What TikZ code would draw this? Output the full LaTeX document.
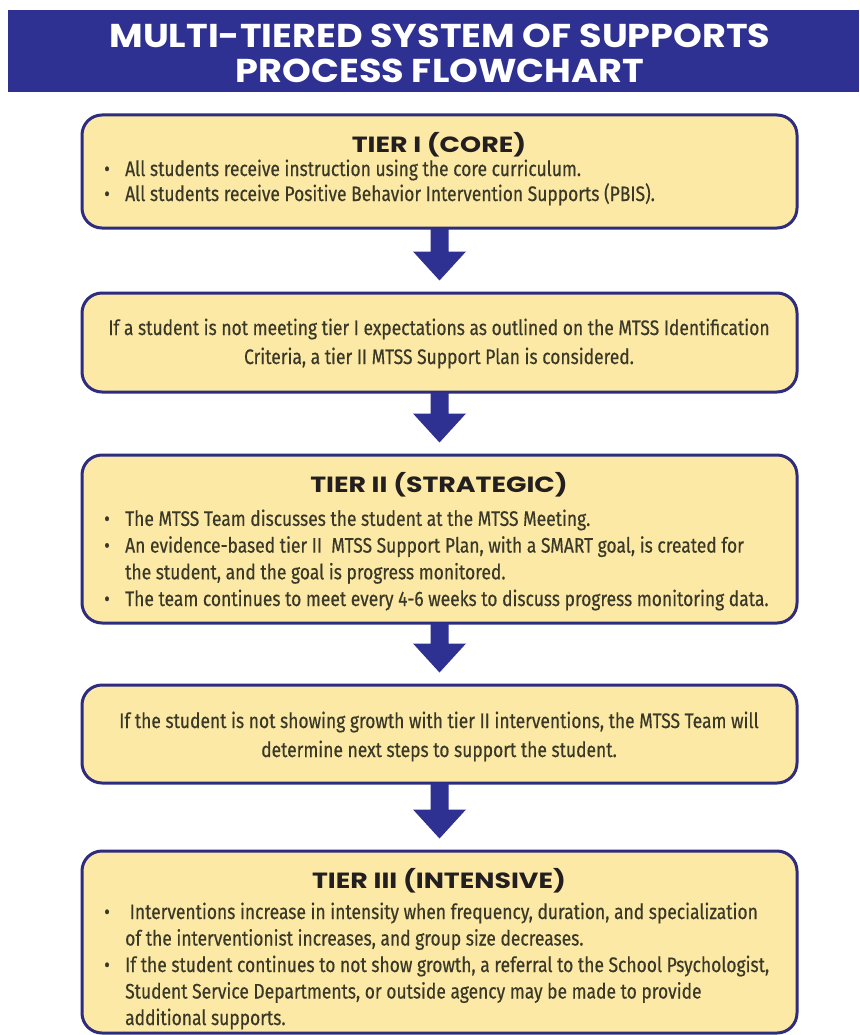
\documentclass[tikz,border=0pt]{standalone}
\usepackage{fontspec}
\usetikzlibrary{calc}
\newfontfamily\headfont{Poppins}[FakeStretch=1.11]
\newfontfamily\tierfont{Poppins}[FakeStretch=1.22]
\newfontfamily\bodyfont{Fira Sans}[FakeStretch=0.83, FakeBold=0.4]
\definecolor{navy}{HTML}{2E3192}
\definecolor{boxfill}{HTML}{FCE9A6}
\definecolor{boxline}{HTML}{2D2C7E}
\definecolor{bodytxt}{HTML}{3A3928}
\definecolor{titletxt}{HTML}{231F20}
\newcommand\bul{\makebox[21pt][l]{\textbullet}}
\newcommand\ind{\hspace*{21pt}}
\newcommand\flowarrow[2]{%
  \fill[navy] ($(#1.south)+(-9,-1)$) -- ($(#1.south)+(9,-1)$) -- ($(#2.north)+(9,-40)$) --
    ($(#2.north)+(26.5,-40)$) -- ($(#2.north)+(0,-11)$) -- ($(#2.north)+(-26.5,-40)$) --
    ($(#2.north)+(-9,-40)$) -- cycle;}
\begin{document}
\begin{tikzpicture}[x=1pt,y=-1pt,
  banner/.style={fill=navy, draw=none, minimum width=851pt, minimum height=82pt, inner sep=0},
  headtext/.style={font=\headfont\bfseries\fontsize{33}{35}\selectfont, text=white, align=center, inner sep=0, anchor=base},
  tierbox/.style={draw=boxline, line width=3pt, fill=boxfill, rounded corners=20pt, minimum width=715pt, inner sep=0},
  tiertitle/.style={font=\tierfont\bfseries\fontsize{22}{24}\selectfont, text=titletxt, inner sep=0, anchor=base},
  bodylist/.style={font=\bodyfont\fontsize{21}{#1}\selectfont, text=bodytxt, align=left, inner sep=0, anchor=base west},
  bodycenter/.style={font=\bodyfont\fontsize{21}{#1}\selectfont, text=bodytxt, align=center, inner sep=0, anchor=base}]
\useasboundingbox (0,0) rectangle (859,1035);
\fill[white] (0,0) rectangle (859,1035);
% header
\node[banner] (head) at (433.5,51) {};
\node[headtext] (headtitle) at (440,83) {MULTI-TIERED SYSTEM OF SUPPORTS\\PROCESS FLOWCHART};
% boxes
\node[tierbox, minimum height=113pt] (b1) at (439.5,171.5) {};
\node[tierbox, minimum height=99pt] (b2) at (439.5,342.5) {};
\node[tierbox, minimum height=168pt] (b3) at (439.5,539) {};
\node[tierbox, minimum height=98pt] (b4) at (439.5,734) {};
\node[tierbox, minimum height=182pt] (b5) at (439.5,942) {};
% arrows
\flowarrow{b1}{b2}
\flowarrow{b2}{b3}
\flowarrow{b3}{b4}
\flowarrow{b4}{b5}
% texts
\node[tiertitle] (t1) at (439,153) {TIER I (CORE)};
\node[bodylist=25] (l1) at (104,201) {\bul All students receive instruction using the core curriculum.\\
\bul All students receive Positive Behavior Intervention Supports (PBIS).};
\node[bodycenter=29] (c2) at (439,364) {If a student is not meeting tier I expectations as outlined on the MTSS Identification\\
Criteria, a tier II MTSS Support Plan is considered.};
\node[tiertitle] (t3) at (439,492) {TIER II (STRATEGIC)};
\node[bodylist=26.7] (l3) at (104,606) {\bul The MTSS Team discusses the student at the MTSS Meeting.\\
\bul An evidence-based tier II\ \ MTSS Support Plan, with a SMART goal, is created for\\
\ind the student, and the goal is progress monitored.\\
\bul The team continues to meet every 4-6 weeks to discuss progress monitoring data.};
\node[bodycenter=29] (c4) at (439,757) {If the student is not showing growth with tier II interventions, the MTSS Team will\\
determine next steps to support the student.};
\node[tiertitle] (t5) at (439,888) {TIER III (INTENSIVE)};
\node[bodylist=26.5] (l5) at (104,1025) {\bul\ Interventions increase in intensity when frequency, duration, and specialization\\
\ind of the interventionist increases, and group size decreases.\\
\bul If the student continues to not show growth, a referral to the School Psychologist,\\
\ind Student Service Departments, or outside agency may be made to provide\\
\ind additional supports.};
\end{tikzpicture}
\end{document}
